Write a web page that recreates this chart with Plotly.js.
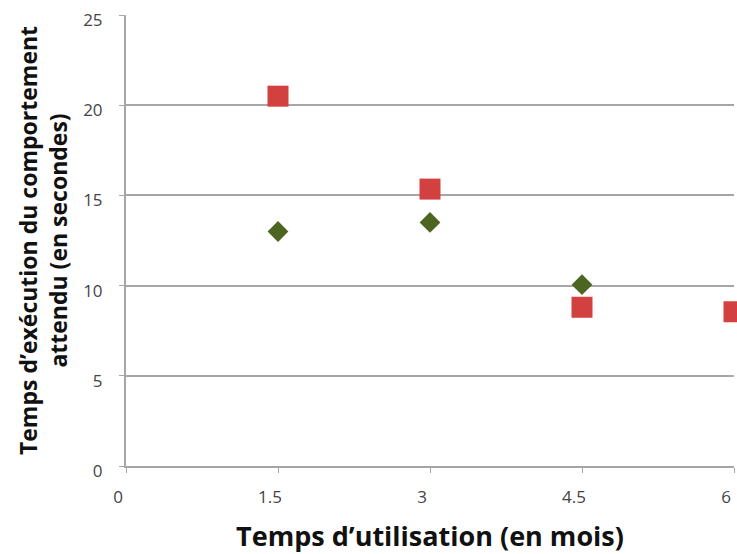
<!DOCTYPE html>
<html>
<head>
<meta charset="utf-8">
<script src="https://cdn.plot.ly/plotly-3.0.1.min.js"></script>
<style>html,body{margin:0;padding:0;background:#fff;}#chart{width:737px;height:554px;}</style>
</head>
<body>
<div id="chart"></div>
<script>
// Data
const monthsRed = [1.5, 3, 4.5, 6];
const secondsRed = [20.5, 15.35, 8.8, 8.55];
const monthsGreen = [1.5, 3, 4.5];
const secondsGreen = [13.0, 13.5, 10.05];
const xTickVals = [0, 1.5, 3, 4.5, 6];
const xTickText = ["0", "1.5", "3", "4.5", "6"];
const yTickVals = [0, 5, 10, 15, 20, 25];

const traces = [
  {
    x: monthsRed, y: secondsRed, type: 'scatter', mode: 'markers',
    marker: {symbol: 'square', size: 21, color: '#d2413f'},
    showlegend: false, cliponaxis: false
  },
  {
    x: monthsGreen, y: secondsGreen, type: 'scatter', mode: 'markers',
    marker: {symbol: 'diamond', size: 16, color: '#4c6621'},
    showlegend: false, cliponaxis: false
  }
];

const layout = {
  width: 737, height: 554,
  margin: {l: 126, r: 3, t: 15, b: 88},
  paper_bgcolor: '#ffffff', plot_bgcolor: '#ffffff',
  font: {family: 'Open Sans, sans-serif', color: '#444'},
  xaxis: {
    range: [0, 6], tickvals: xTickVals, ticktext: xTickText,
    showgrid: false, zeroline: false,
    showline: true, linecolor: '#a6a6a6', linewidth: 2,
    ticks: 'outside', ticklen: 5, tickcolor: '#a6a6a6', tickwidth: 1,
    ticklabelstandoff: 10, ticklabelshift: -8,
    tickfont: {size: 17, color: '#444', family: 'Open Sans, sans-serif'},
    title: {text: 'Temps d\u2019utilisation (en mois)', standoff: 22,
            font: {size: 27, color: '#111', family: 'Open Sans, sans-serif', weight: 'bold'}}
  },
  yaxis: {
    range: [0, 25], tickvals: yTickVals,
    showgrid: true, gridcolor: '#a6a6a6', gridwidth: 2,
    zeroline: false,
    showline: true, linecolor: '#a6a6a6', linewidth: 2,
    ticks: 'outside', ticklen: 5, tickcolor: '#a6a6a6', tickwidth: 1,
    ticklabelstandoff: 13, ticklabelshift: 5,
    tickfont: {size: 17, color: '#444', family: 'Open Sans, sans-serif'},
    title: {text: 'Temps d\u2019exécution du comportement<br>attendu (en secondes)', standoff: 9,
            font: {size: 23, color: '#111', family: 'Open Sans, sans-serif', weight: 'bold'}}
  }
};

Plotly.newPlot('chart', traces, layout, {displayModeBar: false, staticPlot: true});
</script>
</body>
</html>
